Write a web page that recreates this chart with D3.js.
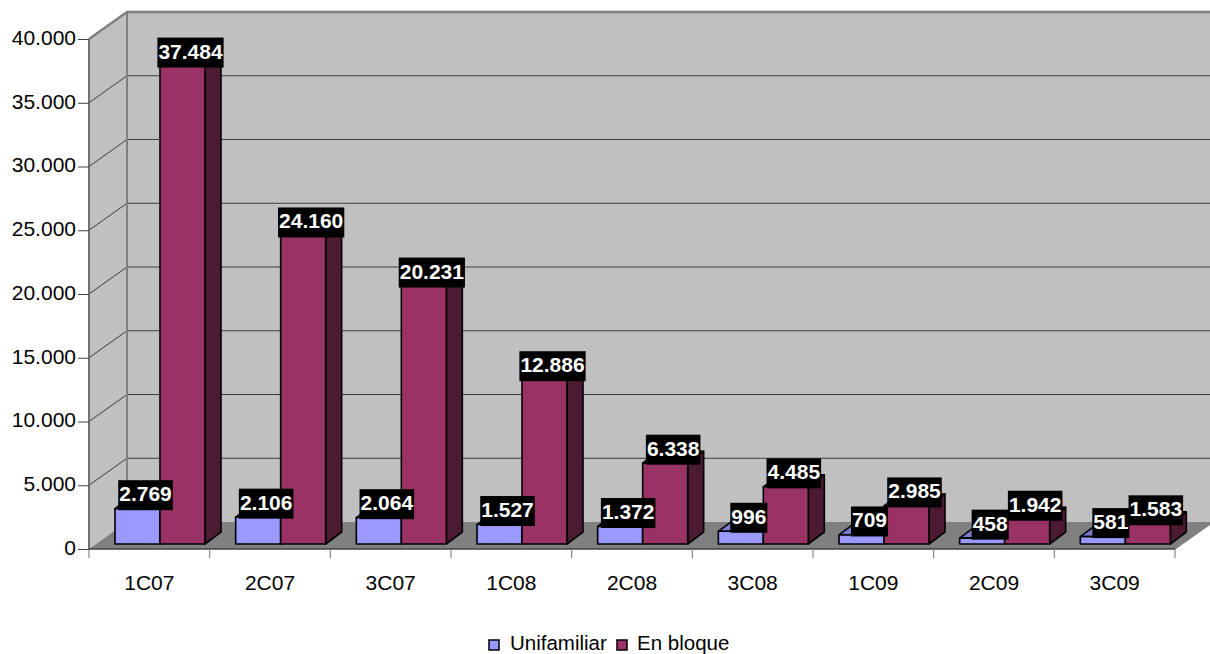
<!DOCTYPE html>
<html>
<head>
<meta charset="utf-8">
<style>
  html, body { margin: 0; padding: 0; background: #fff; overflow: hidden; }
  text { font-family: "Liberation Sans", Arial, sans-serif; }
</style>
<script src="https://cdn.jsdelivr.net/npm/d3@7"></script>
</head>
<body>
<svg id="chart" width="1210" height="654"></svg>
<script>
// Housing starts per four-month period, by building type
const categories = ["1C07", "2C07", "3C07", "1C08", "2C08", "3C08", "1C09", "2C09", "3C09"];
const seriesNames = ["Unifamiliar", "En bloque"];
const unifamiliar = [2769, 2106, 2064, 1527, 1372, 996, 709, 458, 581];
const enBloque = [37484, 24160, 20231, 12886, 6338, 4485, 2985, 1942, 1583];
const yTicks = [0, 5000, 10000, 15000, 20000, 25000, 30000, 35000, 40000];

const seriesColors = [
  { face: "#9999ff", top: "#7a7acc", side: "#4d4d80" },
  { face: "#993366", top: "#7a2952", side: "#4d1a33" }
];

const svg = d3.select("#chart");
const esFormat = d3.formatLocale({ decimal: ",", thousands: ".", grouping: [3], currency: ["", ""] }).format(",d");

// Front plane of the chart box and the depth offsets of the oblique projection
const left = 89, right = 1175, zeroY = 549, topY = 39;
const wallDx = 38, wallDy = -27;
const barDx = 16, barDy = -12, barInset = 5;

const x = d3.scaleBand().domain(categories).range([left, right]);
const y = d3.scaleLinear().domain([0, 40000]).range([zeroY, topY]);
const groupStart = 26, barWidth = 45;

const pts = a => a.map(p => p.join(",")).join(" ");

// Walls and floor
svg.append("polygon").attr("fill", "#c0c0c0")
  .attr("points", pts([[left, topY], [left + wallDx, topY + wallDy], [right + wallDx, topY + wallDy], [right + wallDx, zeroY + wallDy], [left + wallDx, zeroY + wallDy], [left, zeroY]]));
svg.append("polygon").attr("fill", "#808080")
  .attr("points", pts([[left, zeroY], [right, zeroY], [right + wallDx, zeroY + wallDy], [left + wallDx, zeroY + wallDy]]));

// Gridlines run along the side wall, then across the back wall
const grid = svg.append("g").attr("fill", "none").attr("stroke", "#3c3c3c").attr("stroke-width", 1);
yTicks.filter(t => t > 0 && t < 40000).forEach(t => {
  grid.append("polyline").attr("points", pts([[left, y(t)], [left + wallDx, y(t) + wallDy], [right + wallDx, y(t) + wallDy]]));
});

// Wall outline
svg.append("polyline").attr("fill", "none").attr("stroke", "#808080").attr("stroke-width", 2.5)
  .attr("points", pts([[left, topY], [left + wallDx, topY + wallDy], [right + wallDx, topY + wallDy]]));
svg.append("line").attr("stroke", "#808080").attr("stroke-width", 2)
  .attr("x1", left + wallDx).attr("x2", left + wallDx).attr("y1", topY + wallDy).attr("y2", zeroY + wallDy);
svg.append("line").attr("stroke", "#808080").attr("stroke-width", 1.5)
  .attr("x1", right).attr("x2", right + wallDx).attr("y1", zeroY).attr("y2", zeroY + wallDy);

// Axes
const yAxis = svg.append("g").attr("transform", `translate(${left},0)`)
  .call(d3.axisLeft(y).tickValues(yTicks).tickFormat(esFormat).tickSize(11).tickPadding(2));
yAxis.selectAll("text").attr("font-size", 21).attr("fill", "#000").attr("dy", "0.26em");
yAxis.selectAll(".tick line").attr("stroke", "#404040");
yAxis.select(".domain").attr("stroke", "#707070").attr("stroke-width", 2).attr("d", `M0,${topY}V${zeroY}`);

const xAxis = svg.append("g").attr("transform", `translate(0,${zeroY})`)
  .call(d3.axisBottom(x).tickSize(0).tickPadding(26));
xAxis.selectAll("text").attr("font-size", 21).attr("fill", "#000");
xAxis.select(".domain").attr("stroke", "#404040").attr("stroke-width", 1.5).attr("d", `M${left},0H${right}`);
xAxis.selectAll(".sep").data(d3.range(categories.length + 1)).enter().append("line")
  .attr("class", "sep").attr("stroke", "#707070")
  .attr("x1", i => left + i * x.step()).attr("x2", i => left + i * x.step())
  .attr("y1", 0).attr("y2", 9);

// Bars, drawn group by group so nearer faces overlap correctly
const baseY = zeroY - barInset;
const heightOf = v => zeroY - y(v);
const bars = svg.append("g").attr("stroke", "#000").attr("stroke-width", 1.6).attr("stroke-linejoin", "round");
const labelData = [];
categories.forEach((cat, i) => {
  [unifamiliar[i], enBloque[i]].forEach((v, s) => {
    const x0 = x(cat) + groupStart + s * barWidth;
    const x1 = x0 + barWidth;
    const yt = baseY - heightOf(v);
    const c = seriesColors[s];
    bars.append("polygon").attr("fill", c.side)
      .attr("points", pts([[x1, baseY], [x1 + barDx, baseY + barDy], [x1 + barDx, yt + barDy], [x1, yt]]));
    bars.append("polygon").attr("fill", c.top)
      .attr("points", pts([[x0, yt], [x0 + barDx, yt + barDy], [x1 + barDx, yt + barDy], [x1, yt]]));
    bars.append("rect").attr("fill", c.face)
      .attr("x", x0).attr("y", yt).attr("width", barWidth).attr("height", baseY - yt);
    labelData.push({ v, cx: x0 + (barWidth + barDx) / 2, cy: yt + barDy - 1.5 });
  });
});

// Value labels: white bold text on black plates
const labels = svg.append("g");
labelData.forEach(d => {
  const g = labels.append("g");
  const rect = g.append("rect").attr("fill", "#000");
  const t = g.append("text").attr("x", d.cx).attr("y", d.cy + 6)
    .attr("text-anchor", "middle").attr("font-size", 21).attr("font-weight", "bold")
    .attr("fill", "#fff").text(esFormat(d.v));
  const w = t.node().getComputedTextLength() + 2;
  rect.attr("x", d.cx - w / 2).attr("y", d.cy - 15).attr("width", w).attr("height", 30);
});

// Legend
const legendItems = [
  { name: seriesNames[0], box: 489, text: 510, color: seriesColors[0].face },
  { name: seriesNames[1], box: 617, text: 637, color: seriesColors[1].face }
];
const legend = svg.append("g");
legendItems.forEach(d => {
  legend.append("rect").attr("x", d.box).attr("y", 640).attr("width", 10).attr("height", 10)
    .attr("fill", d.color).attr("stroke", "#000").attr("stroke-width", 1.5);
  legend.append("text").attr("x", d.text).attr("y", 649.5).attr("font-size", 20.5).attr("fill", "#000").text(d.name);
});
</script>
</body>
</html>
